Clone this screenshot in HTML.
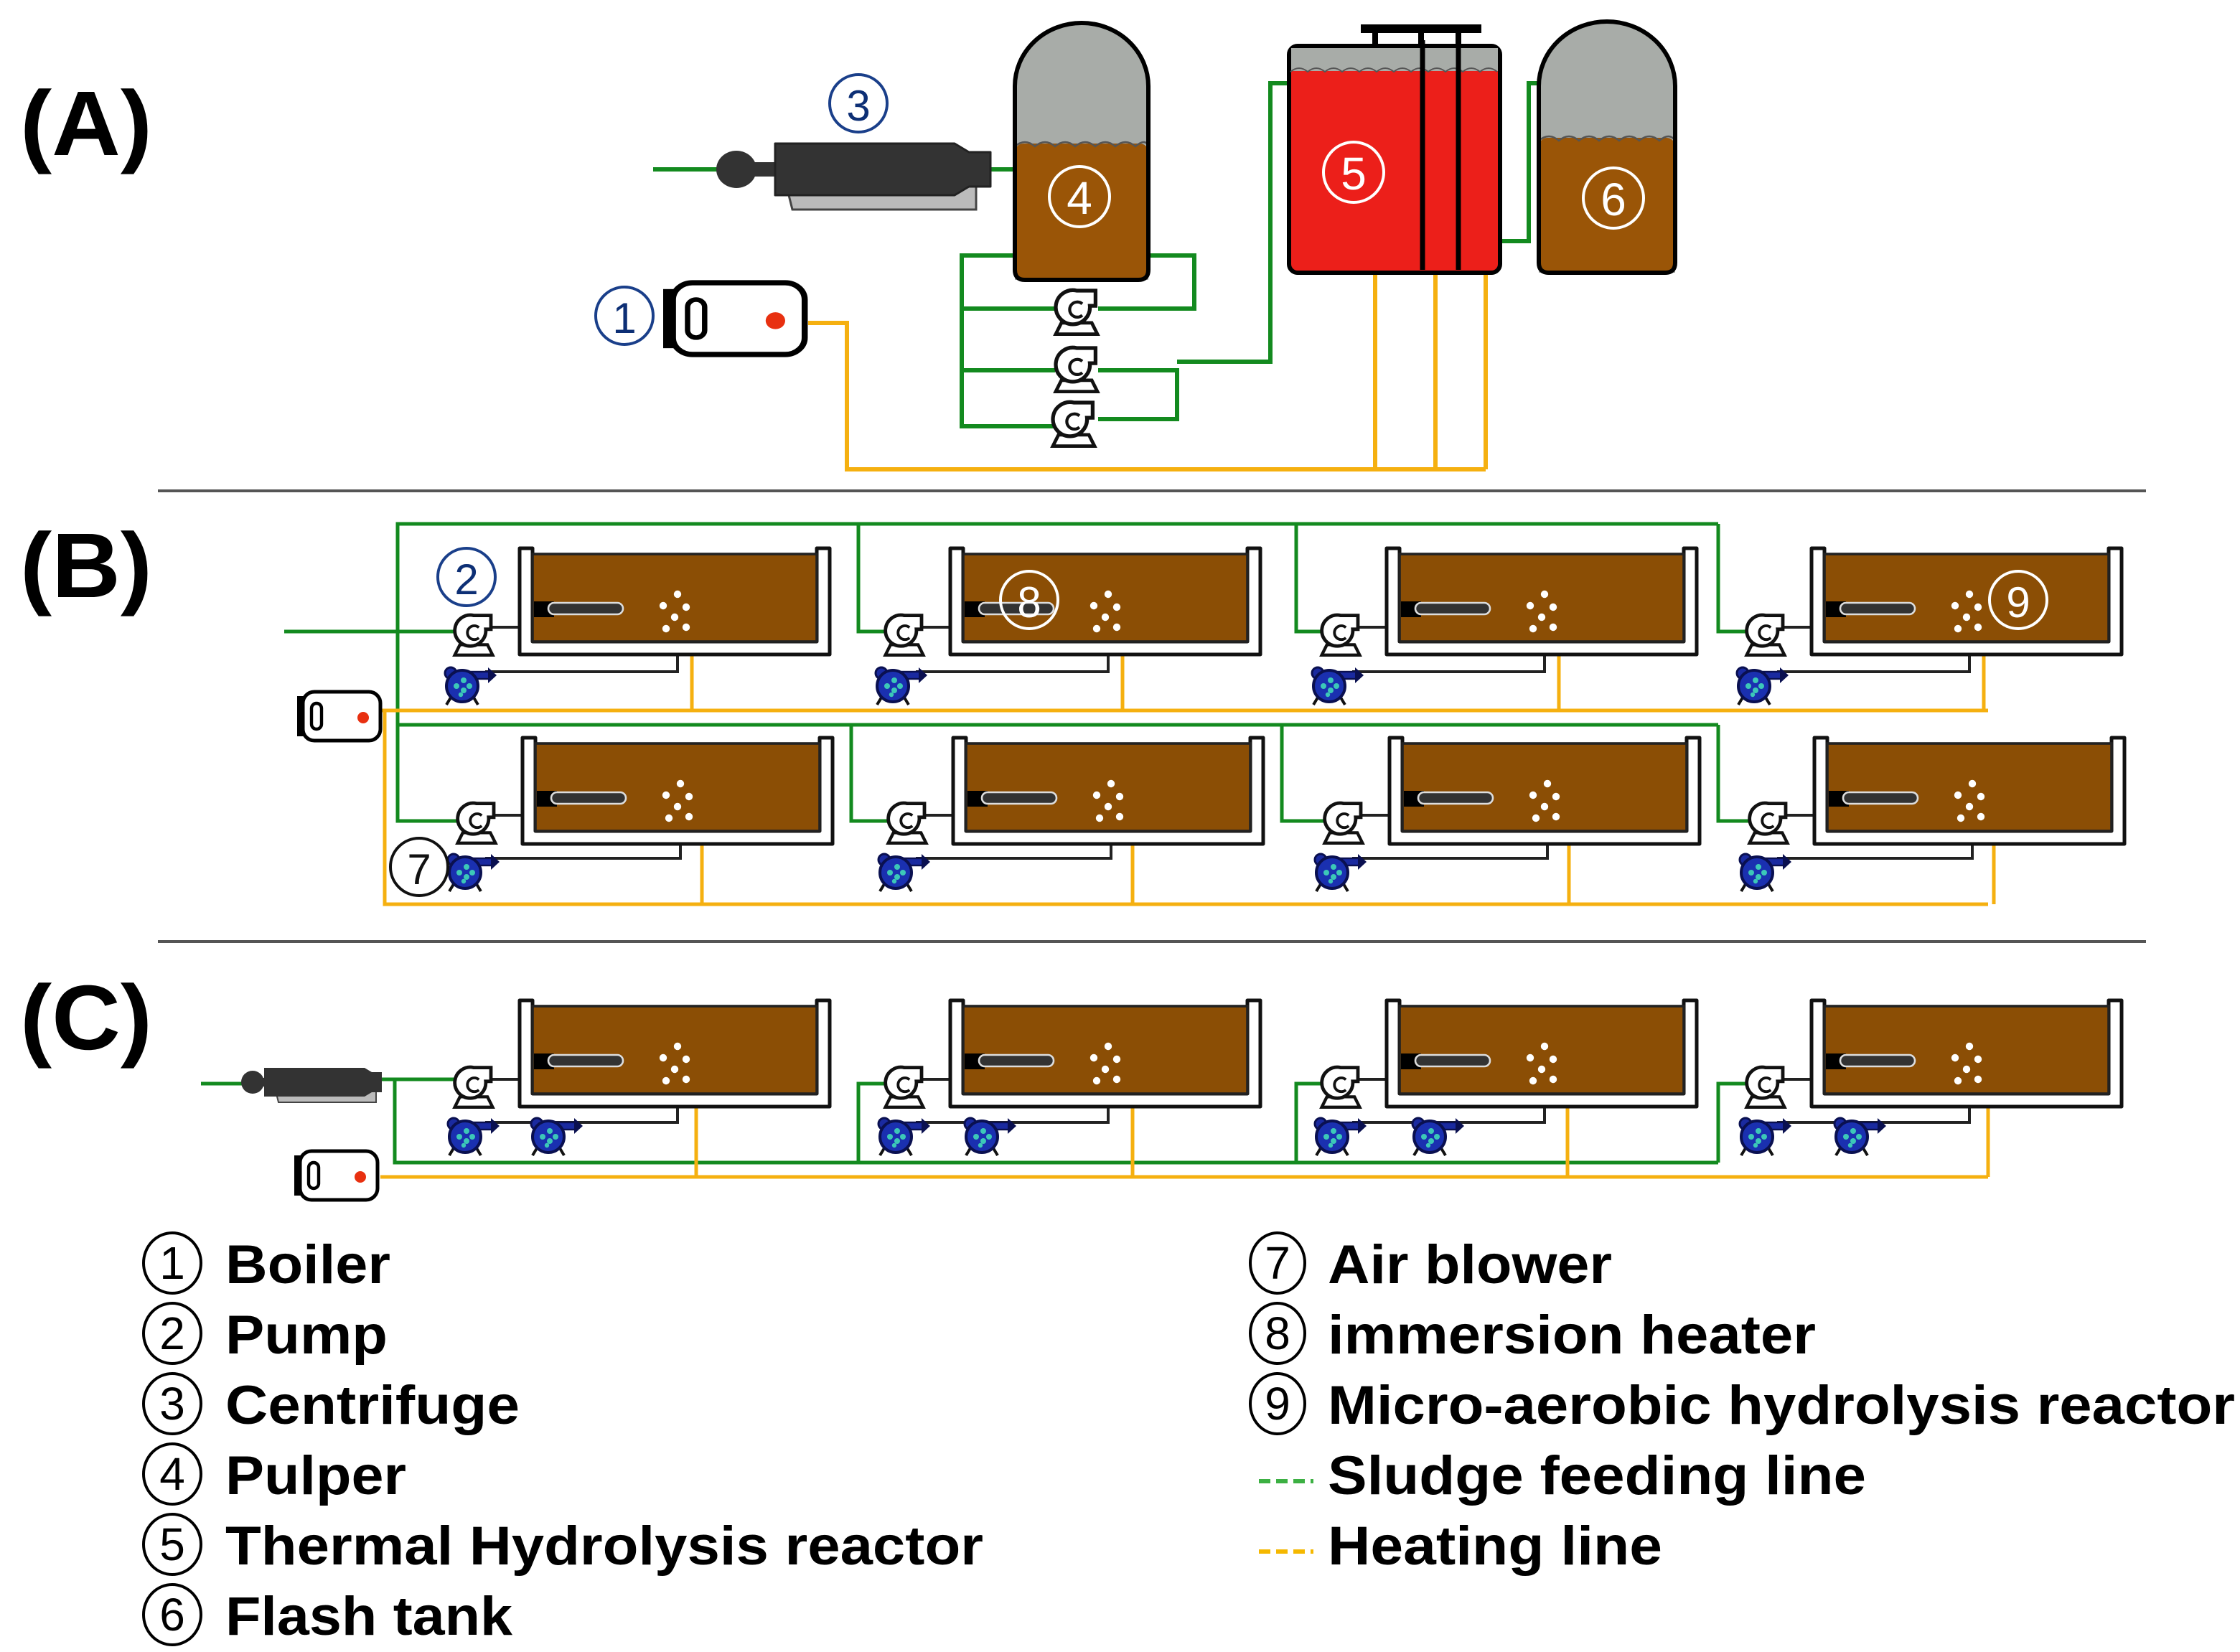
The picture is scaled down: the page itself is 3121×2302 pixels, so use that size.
<!DOCTYPE html>
<html><head><meta charset="utf-8"><style>
html,body{margin:0;padding:0;background:#fff;}
svg{display:block;}
text{font-family:"Liberation Sans",sans-serif;}
</style></head><body>
<svg width="3121" height="2302" viewBox="0 0 1560.5 1151" xmlns="http://www.w3.org/2000/svg">
<defs>
<g id="tank">
  <path d="M0,2 V76 H216 V2 H207 V67 H9 V2 Z" fill="#fff" stroke="#111" stroke-width="2.5" stroke-linejoin="round"/>
  <rect x="9" y="6" width="198" height="61" fill="#8b4e05" stroke="#222" stroke-width="1.8"/>
  <rect x="10" y="39" width="14" height="11" fill="#000"/>
  <rect x="20" y="40" width="52" height="8" rx="4" fill="#333" stroke="#ddd" stroke-width="1.3"/>
  <g fill="#fff"><circle cx="110" cy="34" r="2.6"/><circle cx="100" cy="42" r="2.6"/><circle cx="116" cy="43" r="2.6"/><circle cx="108" cy="50" r="2.6"/><circle cx="102" cy="58" r="2.6"/><circle cx="116" cy="57" r="2.6"/></g>
</g>
<g id="pump0">
  <path d="M-8,6 L-11,12 H11 L8,6 Z" fill="#fff" stroke="#111" stroke-width="1.8"/>
  <path d="M0,-11 H10 V-3 H7 A9,9 0 1 1 0,-11 Z" fill="#fff" stroke="#111" stroke-width="2"/>
  <path d="M3,-4 A4,4 0 1 0 3,2" fill="none" stroke="#111" stroke-width="1.6"/>
</g>
<g id="pump"><use href="#pump0" transform="scale(1.2)"/></g>
<g id="blower">
  <path d="M-8,8 L-11,13 M8,8 L11,13" stroke="#111" stroke-width="2"/>
  <rect x="2" y="-10" width="18" height="5" fill="#1a2aa0" stroke="#0a1050" stroke-width="1.2"/>
  <path d="M18,-13 V-2 L24,-7.5 Z" fill="#0a1050"/>
  <circle cx="-8" cy="-9" r="4" fill="#1a2aa0" stroke="#0a1050" stroke-width="1.5"/>
  <circle cx="0" cy="0" r="11" fill="#1a30b0" stroke="#0a1050" stroke-width="2"/>
  <g fill="#3cc8b8"><circle cx="-4" cy="0" r="2"/><circle cx="1" cy="-4" r="2"/><circle cx="1" cy="3" r="2"/><circle cx="5" cy="0" r="2"/><circle cx="-1" cy="6" r="1.6"/></g>
</g>
<g id="boiler">
  <rect x="0" y="3" width="6" height="28" fill="#000"/>
  <rect x="4" y="0" width="54" height="34" rx="8" fill="#fff" stroke="#000" stroke-width="2.5"/>
  <rect x="10" y="8" width="7" height="18" rx="3.5" fill="#fff" stroke="#000" stroke-width="2.2"/>
  <circle cx="46" cy="18" r="4" fill="#e83010"/>
</g>
</defs>

<line x1="110" y1="342" x2="1495" y2="342" stroke="#555" stroke-width="2"/>
<line x1="110" y1="656" x2="1495" y2="656" stroke="#555" stroke-width="2"/>

<g font-size="64" font-weight="bold">
<text x="14" y="108" textLength="92" lengthAdjust="spacingAndGlyphs">(A)</text>
<text x="14" y="416" textLength="92" lengthAdjust="spacingAndGlyphs">(B)</text>
<text x="14" y="731" textLength="92" lengthAdjust="spacingAndGlyphs">(C)</text>
</g>

<!-- ===== Panel A ===== -->
<g fill="none" stroke="#138a1f" stroke-width="3">
  <path d="M455,118 H500"/>
  <path d="M680,118 H707"/>
  <path d="M707,178 H670 V297 H735"/>
  <path d="M670,215 H735 M670,258 H735"/>
  <path d="M800,178 H832 V215 H765"/>
  <path d="M765,258 H820 V292 H765"/>
  <path d="M820,252 H885 V58 H898"/>
  <path d="M1045,168 H1065 V58 H1072"/>
</g>
<g fill="none" stroke="#f5b010" stroke-width="3">
  <path d="M563,225 H590 V327 H1035"/>
  <path d="M958,190 V327 M1000,190 V327 M1035,190 V327"/>
</g>
<ellipse cx="513" cy="118" rx="14" ry="13" fill="#333"/>
<rect x="524" y="113" width="18" height="10" fill="#333"/>
<path d="M548,130 H680 V146 H552 Z" fill="#bbb" stroke="#444" stroke-width="1.5"/>
<path d="M540,100 H665 L675,106 H690 V130 H675 L665,136 H540 Z" fill="#333" stroke="#222" stroke-width="1.5" stroke-linejoin="round"/>
<circle cx="598" cy="72" r="20" fill="#fff" stroke="#1a3f8a" stroke-width="2"/>
<text x="598" y="84" font-size="30" text-anchor="middle" fill="#0d2f75" font-family="Liberation Serif">3</text>
<path d="M707,195 V60 A46.5,44 0 0 1 800,60 V195 Z" fill="#a8aca8"/>
<rect x="707" y="100" width="93" height="95" rx="6" fill="#9a5507"/>
<path d="M707,102 q7,-6 14,0 q7,-6 14,0 q7,-6 14,0 q7,-6 14,0 q7,-6 14,0 q7,-6 14,0 q7,-6 9,0" fill="none" stroke="#555" stroke-width="1.2"/>
<path d="M707,188 V60 A46.5,44 0 0 1 800,60 V188 q0,7 -7,7 H714 q-7,0 -7,-7 Z" fill="none" stroke="#000" stroke-width="3"/>
<circle cx="752" cy="137" r="21" fill="none" stroke="#fff" stroke-width="2"/>
<text x="752" y="149" font-size="32" text-anchor="middle" fill="#fff" font-family="Liberation Serif">4</text>
<use href="#pump" transform="translate(750,217) scale(1.1)"/>
<use href="#pump" transform="translate(750,257) scale(1.1)"/>
<use href="#pump" transform="translate(748,295) scale(1.1)"/>
<rect x="948" y="17" width="84" height="6" fill="#000"/>
<rect x="956" y="22" width="4" height="10" fill="#000"/><rect x="988" y="22" width="4" height="10" fill="#000"/><rect x="1014" y="22" width="4" height="10" fill="#000"/>
<rect x="898" y="32" width="147" height="158" rx="6" fill="#ec1f1a" stroke="#000" stroke-width="3"/>
<rect x="899.5" y="33.5" width="144" height="16" fill="#a8aca8"/>
<path d="M899,50 q6,-5 12,0 q6,-5 12,0 q6,-5 12,0 q6,-5 12,0 q6,-5 12,0 q6,-5 12,0 q6,-5 12,0 q6,-5 12,0 q6,-5 12,0 q6,-5 12,0 q6,-5 12,0 q6,-5 12,0" fill="none" stroke="#555" stroke-width="1"/>
<line x1="991" y1="28" x2="991" y2="188" stroke="#000" stroke-width="3.5"/>
<line x1="1016" y1="28" x2="1016" y2="188" stroke="#000" stroke-width="3.5"/>
<circle cx="943" cy="120" r="21" fill="none" stroke="#fff" stroke-width="2"/>
<text x="943" y="132" font-size="32" text-anchor="middle" fill="#fff" font-family="Liberation Serif">5</text>
<path d="M1072,190 V60 A47.5,45 0 0 1 1167,60 V190 Z" fill="#a8aca8"/>
<rect x="1072" y="96" width="95" height="94" rx="6" fill="#9a5507"/>
<path d="M1072,98 q7,-6 14,0 q7,-6 14,0 q7,-6 14,0 q7,-6 14,0 q7,-6 14,0 q7,-6 14,0 q7,-6 11,0" fill="none" stroke="#555" stroke-width="1.2"/>
<path d="M1072,183 V60 A47.5,45 0 0 1 1167,60 V183 q0,7 -7,7 H1079 q-7,0 -7,-7 Z" fill="none" stroke="#000" stroke-width="3"/>
<circle cx="1124" cy="138" r="21" fill="none" stroke="#fff" stroke-width="2"/>
<text x="1124" y="150" font-size="32" text-anchor="middle" fill="#fff" font-family="Liberation Serif">6</text>
<use href="#boiler" transform="translate(462,197) scale(1.7,1.47)"/>
<circle cx="435" cy="220" r="20" fill="#fff" stroke="#1a3f8a" stroke-width="2"/>
<text x="435" y="232" font-size="30" text-anchor="middle" fill="#0d2f75" font-family="Liberation Serif">1</text>

<!-- ===== Panel B ===== -->
<g fill="none" stroke="#138a1f" stroke-width="2.5">
  <path d="M198,440 H318"/>
  <path d="M277,440 V365 H1197"/>
  <path d="M598,365 V440 H618 M903,365 V440 H922 M1197,365 V440 H1218"/>
  <path d="M277,440 V572 H318"/>
  <path d="M277,505 H1197"/>
  <path d="M593,505 V572 H618 M893,505 V572 H922 M1197,505 V572 H1218"/>
</g>
<g fill="none" stroke="#f5b010" stroke-width="2.5">
  <path d="M265,495 H1385 M268,495 V630 H1385"/>
  <path d="M482,455 V495 M782,455 V495 M1086,455 V495 M1382,455 V495"/>
  <path d="M489,588 V630 M789,588 V630 M1093,588 V630 M1389,588 V630"/>
</g>
<g fill="none" stroke="#222" stroke-width="2">
  <path d="M338,468 H472 V455 M638,468 H772 V455 M942,468 H1076 V455 M1238,468 H1372 V455"/>
  <path d="M338,598 H474 V588 M638,598 H774 V588 M942,598 H1078 V588 M1238,598 H1374 V588"/>
  <path d="M338,437 H362 M638,437 H662 M942,437 H966 M1238,437 H1262"/>
  <path d="M340,568 H364 M640,568 H664 M944,568 H968 M1240,568 H1264"/>
</g>
<use href="#tank" x="362" y="380"/><use href="#tank" x="662" y="380"/><use href="#tank" x="966" y="380"/><use href="#tank" x="1262" y="380"/>
<use href="#tank" x="364" y="512"/><use href="#tank" x="664" y="512"/><use href="#tank" x="968" y="512"/><use href="#tank" x="1264" y="512"/>
<use href="#pump" x="330" y="442"/><use href="#pump" x="630" y="442"/><use href="#pump" x="934" y="442"/><use href="#pump" x="1230" y="442"/>
<use href="#pump" x="332" y="573"/><use href="#pump" x="632" y="573"/><use href="#pump" x="936" y="573"/><use href="#pump" x="1232" y="573"/>
<use href="#blower" x="322" y="478"/><use href="#blower" x="622" y="478"/><use href="#blower" x="926" y="478"/><use href="#blower" x="1222" y="478"/>
<use href="#blower" x="324" y="608"/><use href="#blower" x="624" y="608"/><use href="#blower" x="928" y="608"/><use href="#blower" x="1224" y="608"/>
<use href="#boiler" x="207" y="482"/>
<circle cx="325" cy="402" r="20" fill="#fff" stroke="#1a3f8a" stroke-width="2"/>
<text x="325" y="414" font-size="30" text-anchor="middle" fill="#0d2f75" font-family="Liberation Serif">2</text>
<circle cx="292" cy="604" r="20" fill="#fff" stroke="#111" stroke-width="2"/>
<text x="292" y="616" font-size="30" text-anchor="middle" fill="#111" font-family="Liberation Serif">7</text>
<circle cx="717" cy="418" r="20" fill="none" stroke="#fff" stroke-width="2"/>
<text x="717" y="430" font-size="30" text-anchor="middle" fill="#fff" font-family="Liberation Serif">8</text>
<circle cx="1406" cy="418" r="20" fill="none" stroke="#fff" stroke-width="2"/>
<text x="1406" y="430" font-size="30" text-anchor="middle" fill="#fff" font-family="Liberation Serif">9</text>

<!-- ===== Panel C ===== -->
<g fill="none" stroke="#138a1f" stroke-width="2.5">
  <path d="M140,755 H170 M262,752 H318"/>
  <path d="M275,752 V810 H1197"/>
  <path d="M598,810 V755 H618 M903,810 V755 H922 M1197,810 V755 H1218"/>
</g>
<g fill="none" stroke="#f5b010" stroke-width="2.5">
  <path d="M265,820 H1385"/>
  <path d="M485,771 V820 M789,771 V820 M1092,771 V820 M1385,771 V820"/>
</g>
<g fill="none" stroke="#222" stroke-width="2">
  <path d="M338,782 H472 V771 M638,782 H772 V771 M942,782 H1076 V771 M1238,782 H1372 V771"/>
  <path d="M338,752 H362 M638,752 H662 M942,752 H966 M1238,752 H1262"/>
</g>
<use href="#tank" x="362" y="695"/><use href="#tank" x="662" y="695"/><use href="#tank" x="966" y="695"/><use href="#tank" x="1262" y="695"/>
<use href="#pump" x="330" y="757"/><use href="#pump" x="630" y="757"/><use href="#pump" x="934" y="757"/><use href="#pump" x="1230" y="757"/>
<use href="#blower" x="324" y="792"/><use href="#blower" x="382" y="792"/>
<use href="#blower" x="624" y="792"/><use href="#blower" x="684" y="792"/>
<use href="#blower" x="928" y="792"/><use href="#blower" x="996" y="792"/>
<use href="#blower" x="1224" y="792"/><use href="#blower" x="1290" y="792"/>
<ellipse cx="176" cy="754" rx="8" ry="8" fill="#333"/>
<path d="M192,760 H262 V768 H194 Z" fill="#bbb" stroke="#444" stroke-width="1"/>
<path d="M184,744 H254 L259,747 H266 V761 H259 L254,764 H184 Z" fill="#333"/>
<rect x="182" y="751" width="4" height="6" fill="#333"/>
<use href="#boiler" x="205" y="802"/>

<!-- ===== Legend ===== -->
<g font-size="38" font-weight="bold" fill="#000" lengthAdjust="spacingAndGlyphs">
  <text x="157" y="894" textLength="115" lengthAdjust="spacingAndGlyphs">Boiler</text>
  <text x="157" y="943" textLength="113" lengthAdjust="spacingAndGlyphs">Pump</text>
  <text x="157" y="992" textLength="205" lengthAdjust="spacingAndGlyphs">Centrifuge</text>
  <text x="157" y="1041" textLength="126" lengthAdjust="spacingAndGlyphs">Pulper</text>
  <text x="157" y="1090" textLength="528" lengthAdjust="spacingAndGlyphs">Thermal Hydrolysis reactor</text>
  <text x="157" y="1139" textLength="200" lengthAdjust="spacingAndGlyphs">Flash tank</text>
  <text x="925" y="894" textLength="198" lengthAdjust="spacingAndGlyphs">Air blower</text>
  <text x="925" y="943" textLength="340" lengthAdjust="spacingAndGlyphs">immersion heater</text>
  <text x="925" y="992" textLength="632" lengthAdjust="spacingAndGlyphs">Micro-aerobic hydrolysis reactor</text>
  <text x="925" y="1041" textLength="375" lengthAdjust="spacingAndGlyphs">Sludge feeding line</text>
  <text x="925" y="1090" textLength="233" lengthAdjust="spacingAndGlyphs">Heating line</text>
</g>
<g fill="#fff" stroke="#000" stroke-width="2">
  <ellipse cx="120" cy="880" rx="20" ry="21"/><ellipse cx="120" cy="929" rx="20" ry="21"/><ellipse cx="120" cy="978" rx="20" ry="21"/>
  <ellipse cx="120" cy="1027" rx="20" ry="21"/><ellipse cx="120" cy="1076" rx="20" ry="21"/><ellipse cx="120" cy="1125" rx="20" ry="21"/>
  <ellipse cx="890" cy="880" rx="19" ry="21"/><ellipse cx="890" cy="929" rx="19" ry="21"/><ellipse cx="890" cy="978" rx="19" ry="21"/>
</g>
<g font-size="32" text-anchor="middle" fill="#000" font-family="Liberation Serif">
  <text x="120" y="891">1</text><text x="120" y="940">2</text><text x="120" y="989">3</text>
  <text x="120" y="1038">4</text><text x="120" y="1087">5</text><text x="120" y="1136">6</text>
  <text x="890" y="891">7</text><text x="890" y="940">8</text><text x="890" y="989">9</text>
</g>
<line x1="877" y1="1032" x2="915" y2="1032" stroke="#3cb043" stroke-width="3" stroke-dasharray="8,4"/>
<line x1="877" y1="1081" x2="915" y2="1081" stroke="#f5b800" stroke-width="3" stroke-dasharray="8,4"/>
</svg>
</body></html>
